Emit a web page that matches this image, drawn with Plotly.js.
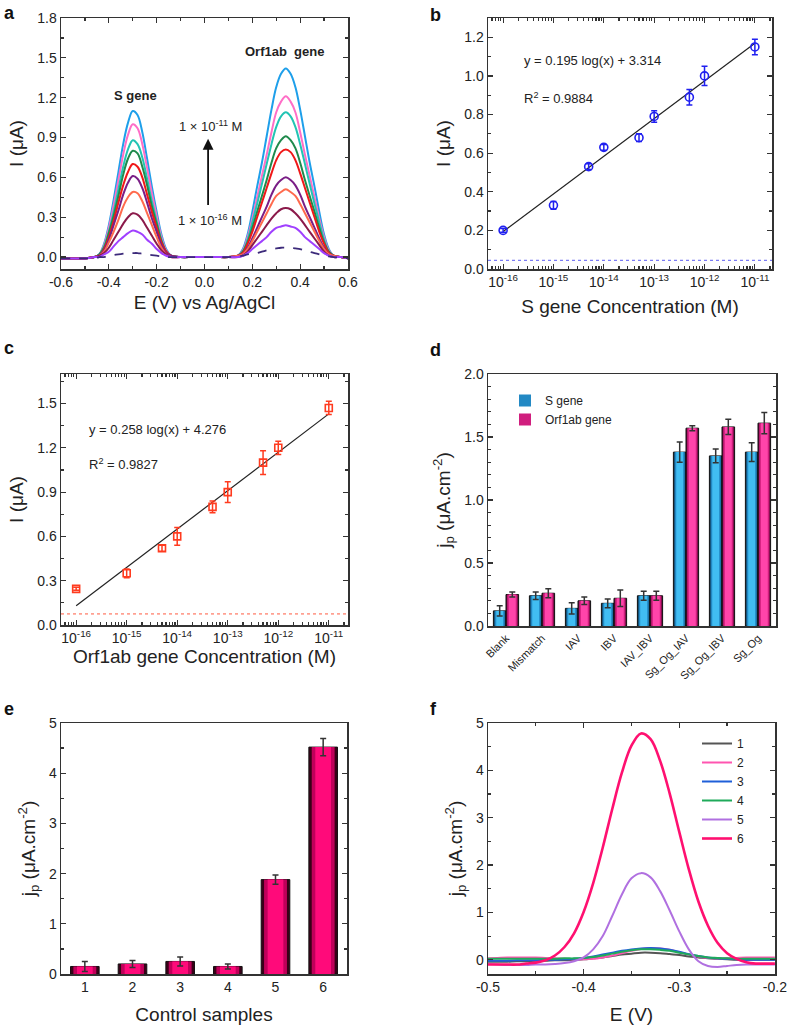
<!DOCTYPE html>
<html><head><meta charset="utf-8">
<script src="https://cdn.plot.ly/plotly-3.0.1.min.js"></script>
<style>body{margin:0;background:#fff}#g{width:789px;height:1027px}</style>
</head><body><div id="g"></div>
<script>
// ---------- Panel a: DPV curves ----------
const aPotential = [-0.60,-0.55,-0.50,-0.46,-0.44,-0.42,-0.40,-0.38,-0.36,-0.34,-0.32,-0.30,-0.28,-0.26,-0.24,-0.22,-0.20,-0.18,-0.16,-0.14,-0.10,-0.05,0.00,0.05,0.10,0.14,0.16,0.18,0.20,0.22,0.24,0.26,0.28,0.30,0.32,0.34,0.36,0.38,0.40,0.42,0.44,0.46,0.48,0.50,0.52,0.54,0.57,0.60];
const aCurve1 = [-0.01,-0.01,-0.01,0,0.02,0.10,0.24,0.43,0.64,0.85,1.01,1.10,1.07,0.94,0.74,0.53,0.34,0.17,0.06,0.01,0, 0,0,0,0, 0.01,0.06,0.17,0.34,0.53,0.71,0.91,1.11,1.28,1.38,1.42,1.38,1.28,1.11,0.91,0.71,0.53,0.34,0.17,0.06,0.01,0,-0.01];
const aCurve2 = [-0.01,-0.01,-0.01,0,0.02,0.09,0.22,0.39,0.58,0.77,0.92,1.00,0.97,0.85,0.67,0.48,0.31,0.15,0.05,0.01,0, 0,0,0,0, 0.01,0.05,0.15,0.29,0.45,0.61,0.77,0.94,1.09,1.17,1.21,1.17,1.09,0.94,0.77,0.61,0.45,0.29,0.15,0.05,0.01,0,-0.01];
const aCurve3 = [-0.01,-0.01,-0.01,0,0.02,0.08,0.19,0.34,0.51,0.68,0.81,0.88,0.85,0.75,0.59,0.42,0.27,0.13,0.04,0.01,0, 0,0,0,0, 0.01,0.04,0.13,0.26,0.40,0.55,0.70,0.85,0.98,1.06,1.09,1.06,0.98,0.85,0.70,0.55,0.40,0.26,0.13,0.04,0.01,0,-0.01];
const aCurve4 = [-0.01,-0.01,-0.01,0,0.02,0.07,0.18,0.31,0.46,0.62,0.74,0.80,0.78,0.68,0.54,0.38,0.25,0.12,0.04,0.01,0, 0,0,0,0, 0.01,0.04,0.11,0.22,0.34,0.46,0.58,0.71,0.82,0.88,0.91,0.88,0.82,0.71,0.58,0.46,0.34,0.22,0.11,0.04,0.01,0,-0.01];
const aCurve5 = [-0.01,-0.01,-0.01,0,0.01,0.06,0.15,0.27,0.41,0.54,0.64,0.70,0.68,0.60,0.47,0.34,0.22,0.11,0.04,0.01,0, 0,0,0,0, 0.01,0.03,0.10,0.19,0.30,0.41,0.52,0.63,0.73,0.79,0.81,0.79,0.73,0.63,0.52,0.41,0.30,0.19,0.10,0.03,0.01,0,-0.01];
const aCurve6 = [-0.01,-0.01,-0.01,0,0.01,0.05,0.13,0.24,0.35,0.47,0.56,0.61,0.59,0.52,0.41,0.29,0.19,0.09,0.03,0.01,0, 0,0,0,0, 0.01,0.02,0.07,0.14,0.22,0.30,0.38,0.47,0.54,0.58,0.60,0.58,0.54,0.47,0.38,0.30,0.22,0.14,0.07,0.02,0.01,0,-0.01];
const aCurve7 = [-0.01,-0.01,-0.01,0,0.01,0.04,0.11,0.19,0.28,0.38,0.45,0.49,0.48,0.42,0.33,0.24,0.15,0.07,0.02,0,0, 0,0,0,0, 0.01,0.02,0.06,0.12,0.19,0.26,0.33,0.40,0.46,0.49,0.51,0.49,0.46,0.40,0.33,0.26,0.19,0.12,0.06,0.02,0.01,0,-0.01];
const aCurve8 = [-0.01,-0.01,-0.01,0,0.01,0.03,0.07,0.13,0.19,0.25,0.30,0.33,0.32,0.28,0.22,0.16,0.10,0.05,0.02,0,0, 0,0,0,0, 0,0.01,0.04,0.09,0.14,0.19,0.24,0.29,0.33,0.36,0.37,0.36,0.33,0.29,0.24,0.19,0.14,0.09,0.04,0.01,0,0,-0.01];
const aCurve9 = [-0.01,-0.01,-0.01,0,0,0.02,0.04,0.08,0.12,0.15,0.18,0.20,0.19,0.17,0.13,0.10,0.06,0.03,0.01,0,0, 0,0,0,0, 0,0.01,0.03,0.06,0.09,0.12,0.15,0.19,0.22,0.23,0.24,0.23,0.22,0.19,0.15,0.12,0.09,0.06,0.03,0.01,0,0,-0.01];
const aBlank  = [-0.01,-0.01,-0.01,-0.01,0,0,0.01,0.015,0.02,0.025,0.03,0.03,0.03,0.025,0.02,0.015,0.01,0.005,0,0,0, 0,0,0,0, 0.005,0.01,0.02,0.025,0.03,0.04,0.05,0.06,0.065,0.07,0.07,0.07,0.065,0.06,0.05,0.04,0.03,0.02,0.01,0.005,0,-0.005,-0.01];
const aTickVals = [-0.6,-0.4,-0.2,0,0.2,0.4,0.6];
const aTickText = ['-0.6','-0.4','-0.2','0.0','0.2','0.4','0.6'];

// ---------- Panel b: S gene calibration ----------
const bConc = [1e-16,1e-15,5e-15,1e-14,5e-14,1e-13,5e-13,1e-12,1e-11];
const bCurrent = [0.20,0.33,0.53,0.63,0.68,0.79,0.89,1.00,1.15];
const bError = [0.01,0.02,0.015,0.015,0.02,0.03,0.04,0.05,0.04];
const bFitConc = [1e-16,1e-11];
const bFitCurrent = [0.194,1.169];
const bBlankLevel = 0.045;

// ---------- Panel c: Orf1ab gene calibration ----------
const cConc = [1e-16,1e-15,5e-15,1e-14,5e-14,1e-13,5e-13,1e-12,1e-11];
const cCurrent = [0.245,0.35,0.52,0.60,0.80,0.90,1.10,1.20,1.47];
const cError = [0.01,0.03,0.02,0.06,0.04,0.07,0.08,0.045,0.045];
const cFitConc = [1e-16,1e-11];
const cFitCurrent = [0.13,1.43];
const cBlankLevel = 0.075;

const logTickVals = [1e-16,1e-15,1e-14,1e-13,1e-12,1e-11];
const logTickText = ['10<sup>-16</sup>','10<sup>-15</sup>','10<sup>-14</sup>','10<sup>-13</sup>','10<sup>-12</sup>','10<sup>-11</sup>'];

// ---------- Panel d: selectivity ----------
const dCategories = ['Blank','Mismatch','IAV','IBV','IAV_IBV','Sg_Og_IAV','Sg_Og_IBV','Sg_Og'];
const dSgene = [0.12,0.24,0.14,0.18,0.24,1.38,1.35,1.38];
const dSgeneErr = [0.04,0.03,0.045,0.035,0.035,0.08,0.055,0.075];
const dOrf = [0.25,0.26,0.20,0.22,0.24,1.57,1.58,1.61];
const dOrfErr = [0.02,0.035,0.03,0.065,0.035,0.02,0.06,0.085];

// ---------- Panel e: control samples ----------
const eSamples = [1,2,3,4,5,6];
const eCurrent = [0.15,0.20,0.25,0.15,1.88,4.52];
const eError = [0.10,0.07,0.09,0.05,0.09,0.17];

// ---------- Panel f: DPV of control samples ----------
const fPotential = [-0.50,-0.49,-0.48,-0.47,-0.46,-0.45,-0.44,-0.43,-0.42,-0.41,-0.40,-0.39,-0.38,-0.37,-0.36,-0.35,-0.34,-0.33,-0.32,-0.31,-0.30,-0.29,-0.28,-0.27,-0.26,-0.25,-0.24,-0.23,-0.22,-0.21,-0.20];
const fCurve1 = [-0.04,-0.04,-0.04,-0.03,-0.03,-0.02,-0.02,-0.01,-0.01,0.0,0.01,0.03,0.05,0.08,0.11,0.13,0.15,0.15,0.14,0.12,0.10,0.07,0.05,0.03,0.02,0.01,0.0,0.0,0.0,0.0,0.0];
const fCurve2 = [0.03,0.04,0.05,0.05,0.05,0.05,0.04,0.03,0.02,0.01,0.01,0.02,0.05,0.09,0.14,0.19,0.23,0.25,0.24,0.21,0.16,0.11,0.07,0.04,0.03,0.03,0.04,0.05,0.05,0.05,0.05];
const fCurve3 = [-0.02,-0.02,-0.02,-0.01,-0.01,-0.01,0.0,0.0,0.01,0.02,0.04,0.07,0.11,0.15,0.19,0.22,0.24,0.25,0.24,0.21,0.17,0.12,0.08,0.05,0.03,0.02,0.01,0.0,0.0,0.0,0.0];
const fCurve4 = [0.02,0.02,0.02,0.02,0.02,0.02,0.02,0.02,0.03,0.03,0.04,0.06,0.09,0.13,0.17,0.20,0.22,0.22,0.21,0.19,0.15,0.11,0.08,0.05,0.04,0.03,0.02,0.02,0.02,0.02,0.02];
const fCurve5 = [-0.09,-0.10,-0.11,-0.11,-0.11,-0.10,-0.10,-0.09,-0.07,-0.03,0.05,0.22,0.50,0.93,1.38,1.72,1.83,1.74,1.45,1.04,0.60,0.22,-0.03,-0.13,-0.15,-0.13,-0.11,-0.10,-0.10,-0.10,-0.10];
const fCurve6 = [-0.10,-0.10,-0.10,-0.10,-0.08,-0.06,-0.01,0.09,0.27,0.56,1.01,1.62,2.37,3.19,3.95,4.52,4.78,4.66,4.20,3.51,2.70,1.91,1.23,0.72,0.36,0.14,0.02,-0.05,-0.08,-0.08,-0.08];
const fLabels = ['1','2','3','4','5','6'];
const fTickVals = [-0.5,-0.4,-0.3,-0.2];
const fTickText = ['-0.5','-0.4','-0.3','-0.2'];

// ---------- build ----------
const FONT = 'Arial, "Liberation Sans", sans-serif';
const traces = [];
const aCurves = [aCurve1,aCurve2,aCurve3,aCurve4,aCurve5,aCurve6,aCurve7,aCurve8,aCurve9];
const aColors = ['#1E9FEA','#FF6EC7','#22C4B4','#1F8A4C','#F01818','#7A1E86','#FF6A4D','#8B1A4A','#A040FF'];
aCurves.forEach((c,i)=>traces.push({x:aPotential,y:c,type:'scatter',mode:'lines',xaxis:'x',yaxis:'y',showlegend:false,
  line:{color:aColors[i],width:2,shape:'spline',smoothing:1}}));
traces.push({x:aPotential,y:aBlank,type:'scatter',mode:'lines',xaxis:'x',yaxis:'y',showlegend:false,
  line:{color:'#3C2A7A',width:1.8,dash:'dash',shape:'spline'}});

// b
traces.push({x:bFitConc,y:bFitCurrent,type:'scatter',mode:'lines',xaxis:'x2',yaxis:'y2',showlegend:false,line:{color:'#222',width:1.2}});
traces.push({x:bConc,y:bCurrent,type:'scatter',mode:'markers',xaxis:'x2',yaxis:'y2',showlegend:false,
  marker:{symbol:'circle-open',size:8,color:'#2020F0',line:{width:1.6}},
  error_y:{type:'data',array:bError,color:'#2020F0',thickness:1.5,width:3}});
// c
traces.push({x:cFitConc,y:cFitCurrent,type:'scatter',mode:'lines',xaxis:'x3',yaxis:'y3',showlegend:false,line:{color:'#222',width:1.2}});
traces.push({x:cConc,y:cCurrent,type:'scatter',mode:'markers',xaxis:'x3',yaxis:'y3',showlegend:false,
  marker:{symbol:'square-open',size:7,color:'#FF3B1F',line:{width:1.6}},
  error_y:{type:'data',array:cError,color:'#FF3B1F',thickness:1.5,width:3}});

// d - layered bars to mimic cylinder shading
function layered(x,y,err,cols,baseOff,w,ax,ay,name,legend){
  const out=[];
  const fr=[1,0.8,0.55];
  fr.forEach((f,k)=>{
    const ww=w*f;
    const t={x:x,y:y,type:'bar',xaxis:ax,yaxis:ay,name:name,showlegend:(k===1&&legend),legend:'legend',
      width:ww,marker:{color:cols[k],line:{width:k===0?1:0,color:'#111'}}};
    if(baseOff!==null){t.offset=baseOff+(w-ww)/2;}
    if(k===2){t.error_y={type:'data',array:err,color:'#333',thickness:1.5,width:3};}
    out.push(t);
  });
  return out;
}
traces.push(...layered(dCategories,dSgene,dSgeneErr,['#0E3A58','#2389C4','#41BDF2'],-0.35,0.35,'x4','y4','S gene',true));
traces.push(...layered(dCategories,dOrf,dOrfErr,['#5C0A36','#D01E7E','#FF44AA'],0,0.35,'x4','y4','Orf1ab gene',true));
// e
traces.push(...layered(eSamples,eCurrent,eError,['#3A0018','#C0005A','#FF0A7A'],null,0.6,'x5','y5','e',false));

// f
const fCurves=[fCurve1,fCurve2,fCurve3,fCurve4,fCurve5,fCurve6];
const fColors=['#555555','#FF55B0','#1F5FD8','#1FAA5A','#B070E0','#FF1070'];
fCurves.forEach((c,i)=>traces.push({x:fPotential,y:c,type:'scatter',mode:'lines',xaxis:'x6',yaxis:'y6',name:fLabels[i],legend:'legend2',
  line:{color:fColors[i],width:i===5?2.6:2,shape:'spline',smoothing:1}}));

function ax(extra){
  return Object.assign({showline:true,linecolor:'#333',linewidth:1.5,mirror:'allticks',ticks:'inside',ticklen:5,tickwidth:1.2,tickcolor:'#333',
    showgrid:false,zeroline:false,tickfont:{size:14,color:'#222',family:FONT},ticklabeloverflow:'allow',
    minor:{ticks:'inside',ticklen:3,tickcolor:'#333',tickwidth:1}},extra);
}
const W=789,H=1027;
const dx=(a,b)=>[a/W,b/W], dy=(t,b)=>[1-b/H,1-t/H];
const jpTitle='j<sub>p</sub> (μA.cm<sup>-2</sup>)';
const layout={
  width:W,height:H,margin:{l:0,r:0,t:0,b:0},paper_bgcolor:'#fff',plot_bgcolor:'#fff',
  font:{family:FONT,color:'#222'},barmode:'overlay',
  xaxis:ax({domain:dx(61,348),range:[-0.6,0.6],tickmode:'array',tickvals:aTickVals,ticktext:aTickText,anchor:'y',minor:{ticks:'inside',ticklen:3,dtick:0.1,tick0:0,tickcolor:'#333'},
    title:{text:'E (V) vs Ag/AgCl',font:{size:19},standoff:6}}),
  yaxis:ax({domain:dy(18,269),range:[-0.09,1.8],dtick:0.3,tick0:0,tickformat:'.1f',anchor:'x',minor:{ticks:'inside',ticklen:3,dtick:0.15,tick0:0,tickcolor:'#333'},
    title:{text:'I (μA)',font:{size:19},standoff:8}}),
  xaxis2:ax({domain:dx(488,772),type:'log',range:[-16.3,-10.66],anchor:'y2',tickmode:'array',
    tickvals:logTickVals,ticktext:logTickText,
    minor:{ticks:'inside',ticklen:3,dtick:'D1',tickcolor:'#333'},
    title:{text:'S gene Concentration (M)',font:{size:19},standoff:10}}),
  yaxis2:ax({domain:dy(18,269),range:[0,1.3],dtick:0.2,tickformat:'.1f',anchor:'x2',minor:{ticks:'inside',ticklen:3,dtick:0.1,tickcolor:'#333'},
    title:{text:'I (μA)',font:{size:19},standoff:8}}),
  xaxis3:ax({domain:dx(61,348),type:'log',range:[-16.3,-10.62],anchor:'y3',tickmode:'array',
    tickvals:logTickVals,ticktext:logTickText,
    minor:{ticks:'inside',ticklen:3,dtick:'D1',tickcolor:'#333'},
    title:{text:'Orf1ab gene Concentration (M)',font:{size:19},standoff:2}}),
  yaxis3:ax({domain:dy(374,625),range:[0,1.7],dtick:0.3,tickformat:'.1f',anchor:'x3',minor:{ticks:'inside',ticklen:3,dtick:0.15,tickcolor:'#333'},
    title:{text:'I (μA)',font:{size:19},standoff:8}}),
  xaxis4:ax({domain:dx(488,776),anchor:'y4',type:'category',ticks:'',minor:{ticks:''},tickangle:-45,tickfont:{size:11,color:'#222',family:FONT}}),
  yaxis4:ax({domain:dy(374,626),range:[0,2],dtick:0.5,tickformat:'.1f',anchor:'x4',minor:{ticks:'inside',ticklen:3,dtick:0.1,tickcolor:'#333'},
    title:{text:jpTitle,font:{size:19},standoff:8}}),
  xaxis5:ax({domain:dx(61,347),range:[0.5,6.5],dtick:1,anchor:'y5',ticks:'',minor:{ticks:''},
    title:{text:'Control samples',font:{size:19},standoff:13}}),
  yaxis5:ax({domain:dy(723,974),range:[0,5],dtick:1,anchor:'x5',minor:{ticks:'inside',ticklen:3,dtick:0.5,tickcolor:'#333'},
    title:{text:jpTitle,font:{size:19},standoff:8}}),
  xaxis6:ax({domain:dx(488,775),range:[-0.5,-0.1999],tickmode:'array',tickvals:fTickVals,ticktext:fTickText,anchor:'y6',minor:{ticks:'inside',ticklen:3,dtick:0.05,tick0:0,tickcolor:'#333'},
    title:{text:'E (V)',font:{size:19},standoff:13}}),
  yaxis6:ax({domain:dy(723,974),range:[-0.3,5],dtick:1,anchor:'x6',minor:{ticks:'inside',ticklen:3,dtick:0.5,tick0:0,tickcolor:'#333'},
    title:{text:jpTitle,font:{size:19},standoff:8}}),
  legend:{x:505/W,y:1-386/H,xanchor:'left',yanchor:'top',bgcolor:'rgba(0,0,0,0)',font:{size:12},tracegroupgap:0,itemwidth:30},
  legend2:{x:697/W,y:1-729/H,xanchor:'left',yanchor:'top',bgcolor:'rgba(0,0,0,0)',font:{size:12},tracegroupgap:0,itemwidth:30},
  shapes:[
    {type:'line',xref:'x2 domain',yref:'y2',x0:0,x1:1,y0:bBlankLevel,y1:bBlankLevel,line:{color:'#5A5AF0',width:1,dash:'dot'}},
    {type:'line',xref:'x3 domain',yref:'y3',x0:0,x1:1,y0:cBlankLevel,y1:cBlankLevel,line:{color:'#FF5A40',width:1,dash:'dot'}}
  ],
  annotations:[
    {text:'<b>a</b>',xref:'paper',yref:'paper',x:2/W,y:1-1/H,xanchor:'left',yanchor:'top',showarrow:false,font:{size:18,color:'#111'}},
    {text:'<b>b</b>',xref:'paper',yref:'paper',x:428/W,y:1-3/H,xanchor:'left',yanchor:'top',showarrow:false,font:{size:18,color:'#111'}},
    {text:'<b>c</b>',xref:'paper',yref:'paper',x:2/W,y:1-336/H,xanchor:'left',yanchor:'top',showarrow:false,font:{size:18,color:'#111'}},
    {text:'<b>d</b>',xref:'paper',yref:'paper',x:428/W,y:1-338/H,xanchor:'left',yanchor:'top',showarrow:false,font:{size:18,color:'#111'}},
    {text:'<b>e</b>',xref:'paper',yref:'paper',x:2/W,y:1-697/H,xanchor:'left',yanchor:'top',showarrow:false,font:{size:18,color:'#111'}},
    {text:'<b>f</b>',xref:'paper',yref:'paper',x:428/W,y:1-697/H,xanchor:'left',yanchor:'top',showarrow:false,font:{size:18,color:'#111'}},
    {text:'<b>S gene</b>',xref:'x',yref:'y',x:-0.29,y:1.22,showarrow:false,font:{size:13,color:'#222'}},
    {text:'<b>Orf1ab  gene</b>',xref:'x',yref:'y',x:0.335,y:1.55,showarrow:false,font:{size:13,color:'#222'}},
    {text:'1 × 10<sup>-11</sup> M',xref:'x',yref:'y',x:0.025,y:0.99,showarrow:false,font:{size:13,color:'#222'}},
    {text:'1 × 10<sup>-16</sup> M',xref:'x',yref:'y',x:0.025,y:0.28,showarrow:false,font:{size:13,color:'#222'}},
    {text:'',xref:'x',yref:'y',x:0.015,y:0.89,ax:0.015,ay:0.38,axref:'x',ayref:'y',showarrow:true,arrowhead:2,arrowsize:1.2,arrowwidth:1.8,arrowcolor:'#111'},
    {text:'y = 0.195 log(x) + 3.314',xref:'x2 domain',yref:'y2 domain',x:0.12,y:0.87,xanchor:'left',showarrow:false,font:{size:13,color:'#222'}},
    {text:'R<sup>2</sup> = 0.9884',xref:'x2 domain',yref:'y2 domain',x:0.12,y:0.72,xanchor:'left',showarrow:false,font:{size:13,color:'#222'}},
    {text:'y = 0.258 log(x) + 4.276',xref:'x3 domain',yref:'y3 domain',x:0.09,y:0.815,xanchor:'left',showarrow:false,font:{size:13,color:'#222'}},
    {text:'R<sup>2</sup> = 0.9827',xref:'x3 domain',yref:'y3 domain',x:0.09,y:0.68,xanchor:'left',showarrow:false,font:{size:13,color:'#222'}}
  ]
};
Plotly.newPlot('g',traces,layout,{staticPlot:true,displayModeBar:false});
</script></body></html>
